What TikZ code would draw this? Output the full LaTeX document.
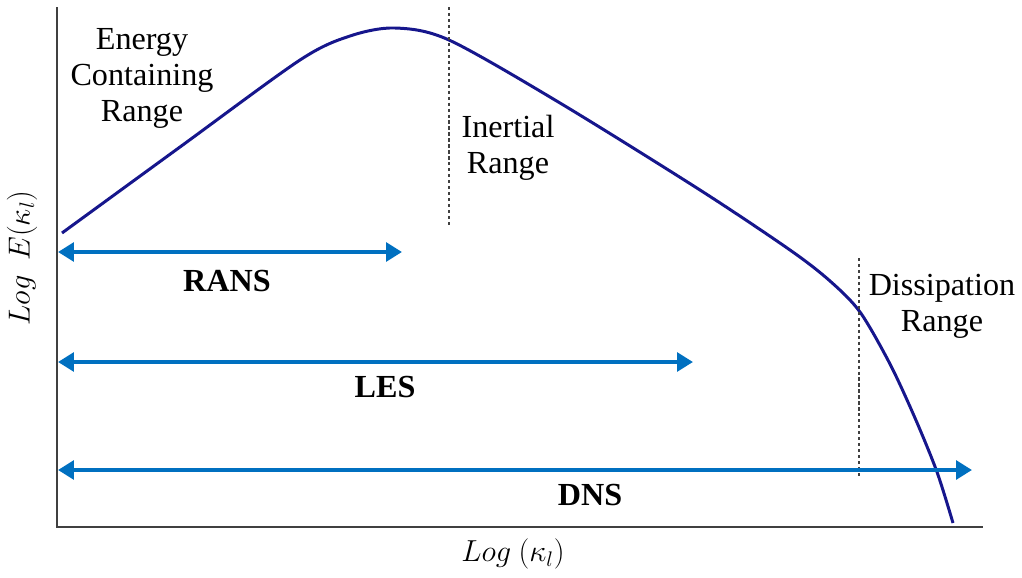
\documentclass[tikz,border=0pt]{standalone}
\usepackage{fontspec}
\setmainfont{Liberation Serif}
\usetikzlibrary{arrows.meta}
\definecolor{specblue}{RGB}{22,22,140}
\definecolor{spanblue}{RGB}{0,112,192}
\tikzset{
  axis/.style={line width=1.6pt, black!75},
  spectrum/.style={line width=1.7pt, specblue},
  divider/.style={line width=1.5pt, black!75, dash pattern=on 1.8pt off 1.6pt},
  span/.style={line width=2.7pt, spanblue, {Triangle[length=9pt,width=10.5pt]}-{Triangle[length=9pt,width=10.5pt]}},
  lbl/.style={font=\fontsize{18.3}{20.5}\selectfont, align=center, inner sep=0pt},
  model/.style={font=\fontsize{18.3}{20.5}\selectfont\bfseries, inner sep=0pt},
  mathlbl/.style={font=\fontsize{17}{20}\selectfont, inner sep=0pt}
}
\begin{document}
\begin{tikzpicture}[x=0.02cm, y=-0.02cm]
\useasboundingbox (0,0) rectangle (1022,578);

% axes
\coordinate (top) at (57,7);
\coordinate (origin) at (57,527);
\coordinate (right) at (983,527);
\draw[axis] (top) -- (origin) -- (right);

% energy spectrum
\draw[spectrum] plot[smooth, tension=0.5] coordinates {
  (62,233) (180,147) (300,60) (350,36) (395,28) (449,40) (560,103)
  (700,190) (790,250) (830,281) (860,312) (890,364)
  (915,418) (937,472) (953,523)};

% range dividers
\coordinate (d1t) at (449,7);
\coordinate (d1b) at (449,227);
\coordinate (d2t) at (859,258);
\coordinate (d2b) at (859,477);
\draw[divider] (d1t) -- (d1b);
\draw[divider] (d2t) -- (d2b);

% resolved ranges of each model
\coordinate (ransL) at (58,252);
\coordinate (ransR) at (402,252);
\coordinate (lesL) at (58,362);
\coordinate (lesR) at (693,362);
\coordinate (dnsL) at (58,470);
\coordinate (dnsR) at (972,470);
\draw[span] (ransL) -- (ransR);
\draw[span] (lesL) -- (lesR);
\draw[span] (dnsL) -- (dnsR);

\node[model] (rans) at (227,281) {RANS};
\node[model] (les) at (385,387) {LES};
\node[model] (dns) at (590,495) {DNS};

% range labels
\node[lbl] (energy) at (142,78) {Energy\\Containing\\Range};
\node[lbl] (inertial) at (508,148) {Inertial\\Range};
\node[lbl] (dissip) at (942,306) {Dissipation\\Range};

% axis labels
\node[mathlbl, rotate=90] (ylab) at (22,258) {$Log\ \ E(\kappa_l)$};
\node[mathlbl] (xlab) at (513,554) {$Log\ (\kappa_l)$};
\end{tikzpicture}
\end{document}
